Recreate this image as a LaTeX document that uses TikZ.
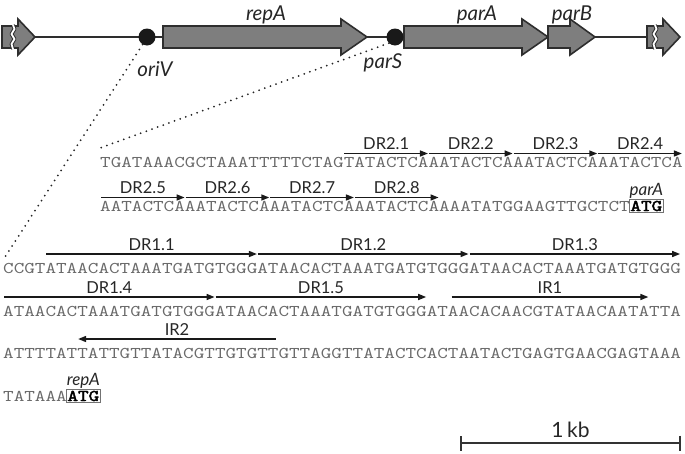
\documentclass[tikz,border=0pt]{standalone}
\usepackage{fontspec}
\setmainfont{Lato}
\newfontfamily\seqfont{lmmono10-regular.otf}[FakeStretch=1.23]
\newfontfamily\atgfont{lmmono10-regular.otf}[FakeStretch=1.23,FakeBold=2.5]
\usetikzlibrary{positioning,arrows.meta,calc}
\definecolor{genegray}{HTML}{7E7E7E}
\definecolor{outline}{HTML}{2E2E2E}
\definecolor{seqgray}{HTML}{6A6A6A}

% width of one base in the sequence font
\def\cw{10.58}

% gene arrow: start, start of head, tip
\newcommand{\genearrow}[3]{%
  \draw[gene] (#1,26) -- (#2,26) -- (#2,19) -- (#3,37) -- (#2,55) -- (#2,48) -- (#1,48) -- cycle;}

\tikzset{
  gene/.style={fill=genegray, draw=outline, line width=1.6pt, line join=miter},
  backbone/.style={draw=outline, line width=1.6pt},
  breakmark/.style={line width=#1, line join=round},
  sitedot/.style={circle, fill=black!90, minimum width=15pt, minimum height=17pt, inner sep=0pt},
  genelabel/.style={anchor=base, inner sep=0pt, font=\fontsize{20.5}{22}\selectfont\itshape, text=black!85},
  seqline/.style={anchor=base west, inner sep=0pt, text=seqgray, font=\fontsize{16.4}{18}\seqfont},
  repeatarrow/.style={draw=black!90, line width=1.5pt, -{Triangle[length=8pt,width=6pt]}},
  replabel/.style={anchor=base, inner sep=0pt, font=\fontsize{16.5}{18}\selectfont, text=black!85},
  startbox/.style={draw=black!55, line width=1pt, inner sep=1.2pt, text=black, font=\fontsize{16.4}{18}\atgfont},
  startlabel/.style={inner sep=0pt, font=\fontsize{17}{19}\selectfont\itshape, text=black!85},
  zoomline/.style={draw=black!85, line width=2pt, line cap=round, dash pattern=on 0pt off 6pt},
  scalebar/.style={draw=black!80, line width=1.8pt, {Bar[width=15pt]}-{Bar[width=15pt]}}
}

\begin{document}
\begin{tikzpicture}[x=1pt, y=-1pt]
    \useasboundingbox (0,0) rectangle (685,453);

    % Plasmid backbone
    \draw[backbone] (35,37) -- (647,37);

    % Genes
    \genearrow{2}{18}{35}
    \genearrow{163}{341}{367}
    \genearrow{404}{522}{548}
    \genearrow{548}{570}{595}
    \genearrow{647}{663}{680}

    % Breaks in the flanking genes
    \foreach \c in {13,655} {
        \draw[breakmark=3.8pt, outline] (\c,25) -- ++(1.5,4) -- ++(-3,5) -- ++(3,5) -- ++(-3,5) -- ++(1.5,5);
        \draw[breakmark=1.8pt, white] (\c,25) -- ++(1.5,4) -- ++(-3,5) -- ++(3,5) -- ++(-3,5) -- ++(1.5,5);
    }

    % Sites
    \node[sitedot] (oriv) at (147,37) {};
    \node[sitedot] (pars) at (395,37) {};

    % Gene and site labels
    \node[genelabel] (repA) at (266,20) {repA};
    \node[genelabel] (parA) at (477,20) {parA};
    \node[genelabel] (parB) at (572,20) {parB};
    \node[genelabel] (oriVlab) at (155,76) {oriV};
    \node[genelabel] (parSlab) at (383,68) {parS};

    % Sequences
    \node[seqline] (seqA) at (100,167) {TGATAAACGCTAAATTTTTCTAGTATACTCAAATACTCAAATACTCAAATACTCA};
    \node[seqline] (seqB) at (100,211) {AATACTCAAATACTCAAATACTCAAATACTCAAAATATGGAAGTTGCTCT};
    \node[seqline] (seqC) at (3,273) {CCGTATAACACTAAATGATGTGGGATAACACTAAATGATGTGGGATAACACTAAATGATGTGGG};
    \node[seqline] (seqD) at (3,316) {ATAACACTAAATGATGTGGGATAACACTAAATGATGTGGGATAACACAACGTATAACAATATTA};
    \node[seqline] (seqE) at (3,358) {ATTTTATTATTGTTATACGTTGTGTTGTTAGGTTATACTCACTAATACTGAGTGAACGAGTAAA};
    \node[seqline] (seqF) at (3,401) {TATAAA};

    % Start codons
    \node[startbox, anchor=base west, xshift=-1.2pt] (atgB) at (seqB.base east) {ATG};
    \node[startlabel, above=0.5pt of atgB] (parAstart) {parA};
    \node[startbox, anchor=base west, xshift=-1.2pt] (atgF) at (seqF.base east) {ATG};
    \node[startlabel, above=0.5pt of atgF] (repAstart) {repA};

    % Zoom lines
    \coordinate (zoomA) at (100,148);
    \coordinate (zoomC) at (5,257);
    \draw[zoomline] (pars.225) -- (zoomA);
    \draw[zoomline] (oriv.240) -- (zoomC);

    % Repeats: baseline/x0/first base/last base/raise/name
    \foreach \b/\x/\s/\e/\r/\t [count=\n] in {
        167/100/23.1/31/13.5/DR2.1, 167/100/31.1/39/13.5/DR2.2, 167/100/39.1/47/13.5/DR2.3, 167/100/47.1/55/13.5/DR2.4,
        211/100/0.1/8/13.5/DR2.5, 211/100/8.1/16/13.5/DR2.6, 211/100/16.1/24/13.5/DR2.7, 211/100/24.1/32/13.5/DR2.8,
        273/3/4.1/24/19/DR1.1, 273/3/24.1/44/19/DR1.2, 273/3/44.1/64/19/DR1.3,
        316/3/0.1/20/19/DR1.4, 316/3/20.1/40/19/DR1.5, 316/3/42.4/61/19/IR1,
        358/3/25.8/7.1/19/IR2} {
        \pgfmathsetmacro{\xs}{\x+\s*\cw}
        \pgfmathsetmacro{\xe}{\x+\e*\cw}
        \draw[repeatarrow] (\xs,\b-\r) -- (\xe,\b-\r);
        \node[replabel] (rep\n) at ({(\xs+\xe)/2},\b-\r-4) {\t};
    }

    % Scale bar
    \coordinate (kbL) at (460,443);
    \coordinate (kbR) at (681,443);
    \draw[scalebar] (kbL) -- (kbR);
    \node[replabel, font=\fontsize{21}{23}\selectfont] (kb) at (570.5,437) {1\,kb};
\end{tikzpicture}
\end{document}
